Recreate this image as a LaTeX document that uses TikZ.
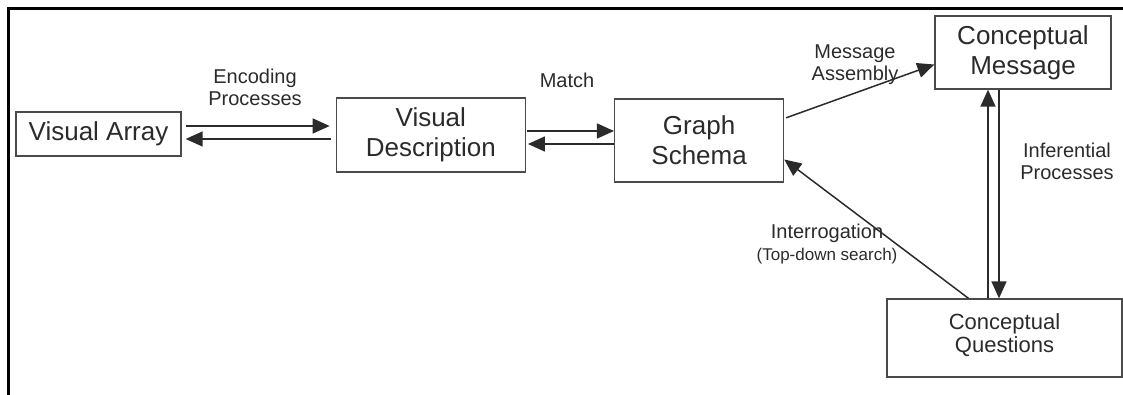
\documentclass[tikz,border=0pt]{standalone}
\usepackage{fontspec}
\setmainfont{Liberation Sans}
\usetikzlibrary{arrows.meta, positioning}
\definecolor{InkGray}{HTML}{2B2B2B}
\definecolor{EdgeGray}{HTML}{4A4A4A}
\tikzset{
  stage/.style={draw=EdgeGray, line width=1.3pt, align=center, inner sep=0pt, text=InkGray, font=\fontsize{26}{30}\selectfont},
  tag/.style={align=center, inner sep=0pt, text=InkGray, font=\fontsize{20}{22}\selectfont},
  flow/.style={-{Triangle[length=17pt, width=15pt]}, line width=1.5pt, draw=InkGray}
}

\begin{document}
\begin{tikzpicture}[x=1pt, y=-1pt]
\useasboundingbox (0,0) rectangle (1123,395);
\draw[line width=3pt] (1123,9) -- (8,9) -- (8,395);

\node[stage, minimum width=165pt, minimum height=44pt] (va) at (98.5,134) {Visual Array};
\node[stage, right=154pt of va, minimum width=189pt, minimum height=74pt, yshift=-1pt] (vd) {Visual\\Description};
\node[stage, right=88pt of vd, minimum width=169pt, minimum height=83pt, yshift=-5.5pt] (gs) {Graph\\Schema};
\node[stage, minimum width=176pt, minimum height=73pt] (cm) at (1023,52.5) {Conceptual\\Message};
\node[stage, minimum width=235pt, minimum height=78pt, font=\fontsize{22}{23}\selectfont] (cq) at (1004.5,338) {Conceptual\\Questions\\[-13pt]};

% labels on the connectors
\node[tag] (enc) at (255,87) {Encoding\\Processes};
\node[tag] (mt) at (567,80) {Match};
\node[tag] (ma) at (855,65) {Message\\Assembly};
\node[tag] (inf) at (1067,161) {Inferential\\Processes};
\node[tag] (itg) at (827,244) {Interrogation\\{\fontsize{17}{20}\selectfont (Top-down search)}};

\draw[flow, shorten <=4pt, shorten >=6pt] ([yshift=8pt]va.east) -- ([yshift=8pt]va.east -| vd.west);
\draw[flow, shorten <=5pt, shorten >=4pt] ([yshift=-5pt]va.east -| vd.west) -- ([yshift=-5pt]va.east);
\draw[flow, shorten <=1pt] ([yshift=4pt]vd.east) -- ([yshift=4pt]vd.east -| gs.west);
\draw[flow, shorten >=2pt] ([yshift=-9pt]vd.east -| gs.west) -- ([yshift=-9pt]vd.east);
\draw[flow, shorten <=2pt] ([yshift=22pt]gs.east) -- ([yshift=-12pt]cm.west);
\draw[flow] ([xshift=-35pt]cm.south |- cq.north) -- ([xshift=-35pt]cm.south);
\draw[flow] ([xshift=-24pt]cm.south) -- ([xshift=-24pt]cm.south |- cq.north);
\draw[flow] ([xshift=-36pt]cq.north) -- ([yshift=-19pt]gs.east);
\end{tikzpicture}
\end{document}
